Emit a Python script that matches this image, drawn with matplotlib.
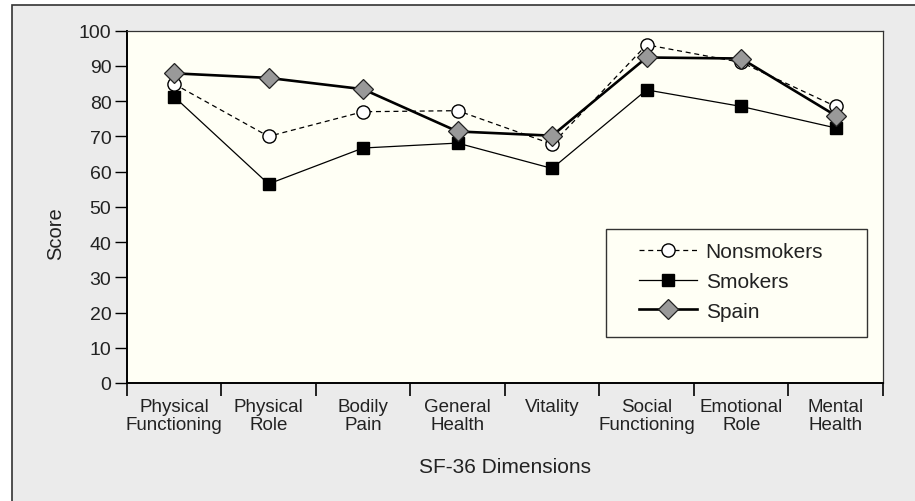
import numpy as np
import matplotlib.pyplot as plt
from matplotlib.patches import Rectangle

dimensions = ['Physical\nFunctioning', 'Physical\nRole', 'Bodily\nPain', 'General\nHealth',
              'Vitality', 'Social\nFunctioning', 'Emotional\nRole', 'Mental\nHealth']
nonsmokers = [84.9, 70.0, 77.0, 77.3, 67.8, 96.0, 91.0, 78.5]
smokers = [81.3, 56.5, 66.7, 68.1, 60.9, 83.2, 78.5, 72.4]
spain = [87.9, 86.6, 83.4, 71.4, 70.2, 92.4, 92.1, 75.9]

plt.rcParams['font.family'] = ['Liberation Sans', 'DejaVu Sans']

W, H = 915, 502
fig = plt.figure(figsize=(W / 100, H / 100), dpi=100)
fig.patch.set_facecolor('white')

# grey panel, border only shows on top and left
bg = Rectangle((12 / W, -0.1), 1.2, 1 - 6 / H + 0.1, transform=fig.transFigure,
               facecolor='#ebebeb', edgecolor='#333333', linewidth=1.2, zorder=-10)
fig.patches.append(bg)

L, R, T, B = 126.7, 883, 31.7, 384
ax = fig.add_axes([L / W, 1 - B / H, (R - L) / W, (B - T) / H])
ax.set_facecolor('#fffff5')

x = np.arange(len(dimensions)) + 0.5

ax.plot(x, smokers, color='black', lw=0.9, marker='s', ms=9,
        mfc='black', mec='black', label='Smokers', zorder=3)
ax.plot(x, nonsmokers, color='black', lw=0.9, ls=(0, (4, 3)), marker='o', ms=9.5,
        mfc='white', mec='black', mew=1, label='Nonsmokers', zorder=4)
ax.plot(x, spain, color='black', lw=1.9, marker='D', ms=10,
        mfc='#999999', mec='#222222', mew=0.9, label='Spain', zorder=5)

ax.set_xlim(0, len(dimensions))
ax.set_ylim(0, 100)
ax.set_yticks(np.arange(0, 101, 10))
ax.set_xticks(np.arange(0, len(dimensions) + 1))
ax.set_xticklabels([])
ax.set_xticks(x, minor=True)
ax.set_xticklabels(dimensions, minor=True, fontsize=13.5, color='#222222', linespacing=1.05)
ax.tick_params(axis='x', which='minor', length=0, pad=11)
ax.tick_params(axis='x', which='major', length=9, width=1.2, direction='out')
ax.tick_params(axis='y', length=9, width=1, direction='out', labelsize=14,
               labelcolor='#222222', pad=2)

for side in ['left', 'bottom']:
    ax.spines[side].set_linewidth(1.4)
for side in ['top', 'right']:
    ax.spines[side].set_linewidth(0.9)
    ax.spines[side].set_color('#333333')

fig.text((L + R) / 2 / W, 1 - 468 / H, 'SF-36 Dimensions', ha='center', va='center',
         fontsize=15, color='#222222')
fig.text(56 / W, 1 - 234 / H, 'Score', ha='center', va='center', rotation=90,
         fontsize=14.5, color='#222222')


def ax_x(px):
    return (px - L) / (R - L)


def ax_y(py):
    return (B - py) / (B - T)


# legend frame drawn separately so the box can be wider than its contents
box = Rectangle((ax_x(606), ax_y(337.7)), ax_x(867) - ax_x(606), ax_y(230) - ax_y(337.7),
                transform=ax.transAxes, facecolor='#fffff5', edgecolor='#333333',
                linewidth=1.0, zorder=6)
ax.add_patch(box)

handles, labels = ax.get_legend_handles_labels()
order = [1, 0, 2]
leg = ax.legend([handles[i] for i in order], [labels[i] for i in order],
                loc='upper left', bbox_to_anchor=(ax_x(639), ax_y(243)),
                fontsize=15, frameon=False, handlelength=2.8, handletextpad=0.4,
                borderpad=0, labelspacing=0.52, borderaxespad=0)
leg.set_zorder(7)
for t in leg.get_texts():
    t.set_color('#222222')

fig.savefig('out.png', dpi=100, facecolor=fig.get_facecolor())
